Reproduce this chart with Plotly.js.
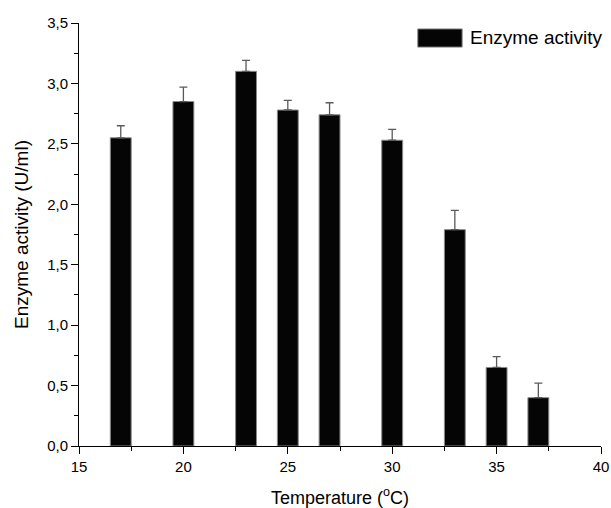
<!DOCTYPE html>
<html>
<head>
<meta charset="utf-8">
<script src="https://cdn.plot.ly/plotly-3.0.1.min.js"></script>
<style>html,body{margin:0;padding:0;background:#fff;}#chart{width:611px;height:508px;}</style>
</head>
<body>
<div id="chart"></div>
<script>
// Data
const temperatures = [17, 20, 23, 25, 27, 30, 33, 35, 37];
const activity = [2.55, 2.85, 3.10, 2.78, 2.74, 2.53, 1.79, 0.65, 0.40];
const activityError = [0.10, 0.12, 0.09, 0.08, 0.10, 0.09, 0.16, 0.09, 0.12];
const seriesName = 'Enzyme activity';
const xTitle = 'Temperature (<sup>o</sup>C)';
const yTitle = 'Enzyme activity (U/ml)';

const fontFam = 'Liberation Sans, Arial, sans-serif';

const trace = {
  type: 'bar',
  x: temperatures,
  y: activity,
  width: 1,
  name: seriesName,
  showlegend: false,
  marker: { color: '#050505', line: { color: '#8a8a8a', width: 1 } },
  error_y: { type: 'data', array: activityError, symmetric: false, arrayminus: activityError.map(() => 0), visible: true, color: '#5a5a5a', thickness: 1.3, width: 4 }
};

const layout = {
  width: 611, height: 508,
  margin: { l: 79, r: 10, t: 23, b: 62 },
  paper_bgcolor: '#fff', plot_bgcolor: '#fff',
  separators: ', ',
  font: { family: fontFam, color: '#000', size: 15 },
  xaxis: {
    range: [15, 40], dtick: 5, tick0: 15,
    showgrid: false, zeroline: false,
    showline: true, linecolor: '#000', linewidth: 1,
    ticks: 'outside', ticklen: 7, tickcolor: '#000', tickwidth: 1,
    minor: { ticks: 'outside', dtick: 2.5, ticklen: 4, tickcolor: '#000', tickwidth: 1, showgrid: false },
    tickfont: { family: fontFam, size: 15, color: '#000' },
    title: { text: xTitle, font: { family: fontFam, size: 18, color: '#000' }, standoff: 20 },
    automargin: false, fixedrange: true
  },
  yaxis: {
    range: [0, 3.5], dtick: 0.5, tick0: 0,
    tickformat: '.1f',
    showgrid: false, zeroline: false,
    showline: true, linecolor: '#000', linewidth: 1,
    ticks: 'outside', ticklen: 7, tickcolor: '#000', tickwidth: 1,
    minor: { ticks: 'outside', dtick: 0.25, ticklen: 4, tickcolor: '#000', tickwidth: 1, showgrid: false },
    tickfont: { family: fontFam, size: 15, color: '#000' },
    title: { text: yTitle, font: { family: fontFam, size: 19, color: '#000' }, standoff: 13 },
    automargin: false, fixedrange: true
  },
  shapes: [{
    type: 'rect', xref: 'paper', yref: 'paper',
    x0: 0.649, x1: 0.734, y0: 0.943, y1: 0.986,
    fillcolor: '#050505', line: { color: '#8a8a8a', width: 1 }
  }],
  annotations: [{
    xref: 'paper', yref: 'paper', x: 0.745, y: 0.966,
    xanchor: 'left', yanchor: 'middle', showarrow: false,
    text: seriesName, font: { family: fontFam, size: 19, color: '#000' }
  }]
};

Plotly.newPlot('chart', [trace], layout, { displayModeBar: false, staticPlot: true });
</script>
</body>
</html>
